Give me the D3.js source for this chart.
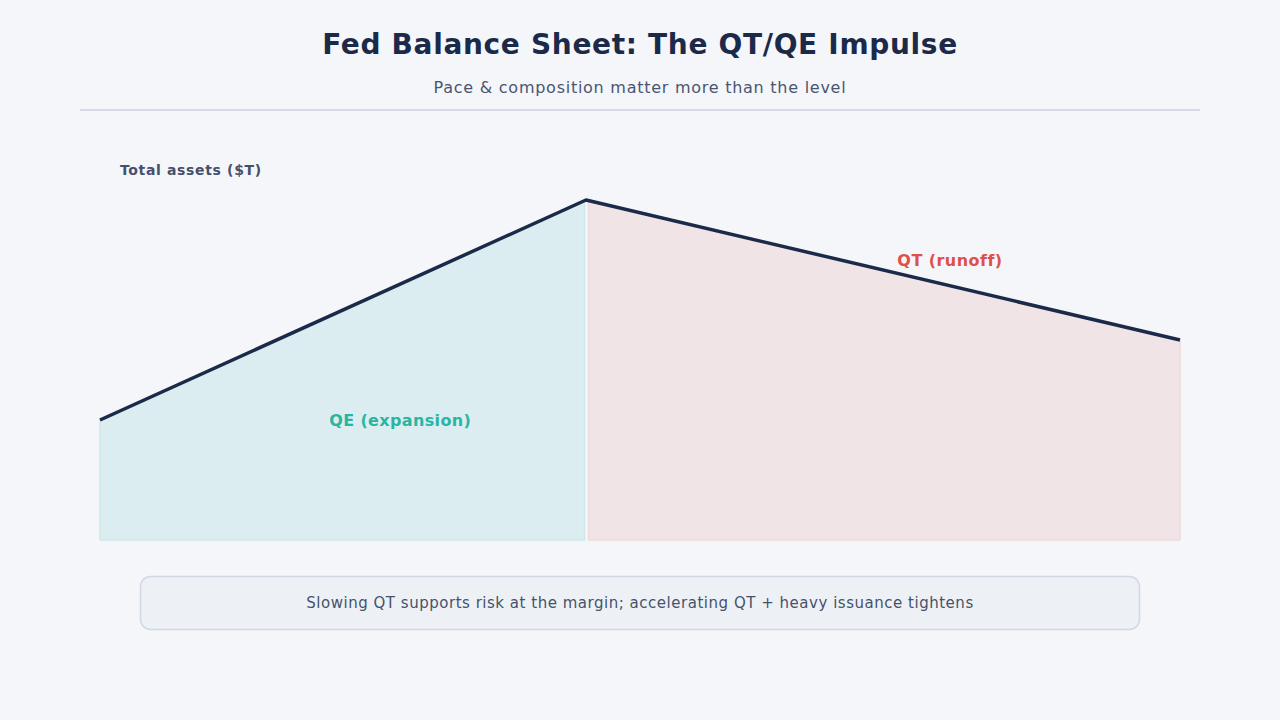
<!DOCTYPE html>
<html>
<head>
<meta charset="utf-8">
<script src="https://cdn.jsdelivr.net/npm/d3@7"></script>
<style>
  body { margin: 0; background: #f5f6fa; }
  svg { display: block; font-family: "DejaVu Sans", sans-serif; }
</style>
</head>
<body>
<script>
// balance sheet path: start, peak, latest (years, $T)
var years = [2020, 2022.25, 2025];
var assets = [3.0, 8.5, 5.0];
var phaseNames = ["QE (expansion)", "QT (runoff)"];
var phaseColors = ["#2bb5a0", "#e0504a"];
var phaseFills = ["#dbedf0", "#f1e4e6"];
var phaseStrokes = ["#cde9e7", "#f0d9dd"];

var W = 1280, H = 720;
var svg = d3.select("body").append("svg").attr("width", W).attr("height", H);

svg.append("rect").attr("width", W).attr("height", H).attr("fill", "#f5f6fa");

svg.append("text").attr("x", 640).attr("y", 54).attr("text-anchor", "middle")
   .attr("font-size", 28).attr("font-weight", "bold").attr("fill", "#1c2a4a")
   .attr("letter-spacing", 0.67)
   .text("Fed Balance Sheet: The QT/QE Impulse");
svg.append("text").attr("x", 640).attr("y", 93).attr("text-anchor", "middle")
   .attr("font-size", 16).attr("fill", "#4a5570").attr("letter-spacing", 0.74)
   .text("Pace & composition matter more than the level");
svg.append("line").attr("x1", 80).attr("x2", 1200).attr("y1", 110).attr("y2", 110)
   .attr("stroke", "#d5d9e6").attr("stroke-width", 2);

var x = d3.scaleLinear().domain([2020, 2025]).range([100, 1180]);
var y = d3.scaleLinear().domain([0, 10]).range([540, 140]);

var pts = years.map(function(t, i) { return {t: t, v: assets[i]}; });

// one area per phase, nudged apart at the peak
var area = d3.area()
  .x(function(d) { return x(d.t) + (d.dx || 0); })
  .y0(y(0))
  .y1(function(d) { return y(d.v); });

var qe = [pts[0], {t: pts[1].t, v: pts[1].v, dx: -1.5}];
var qt = [{t: pts[1].t, v: pts[1].v, dx: 2.5}, pts[2]];

[qe, qt].forEach(function(seg, i) {
  svg.append("path").datum(seg).attr("d", area)
     .attr("fill", phaseFills[i]).attr("stroke", phaseStrokes[i]).attr("stroke-width", 1.5);
});

var line = d3.line().x(function(d) { return x(d.t); }).y(function(d) { return y(d.v); });
svg.append("path").datum(pts).attr("d", line)
   .attr("fill", "none").attr("stroke", "#1c2a4a").attr("stroke-width", 3.5)
   .attr("stroke-linejoin", "round");

svg.append("text").attr("x", 120).attr("y", 175).attr("font-size", 14)
   .attr("font-weight", "bold").attr("fill", "#45506b").attr("letter-spacing", 0.65)
   .text("Total assets ($T)");

svg.append("text").attr("x", x(2021.39)).attr("y", 426).attr("text-anchor", "middle")
   .attr("font-size", 16).attr("font-weight", "bold").attr("fill", phaseColors[0])
   .attr("letter-spacing", 0.36)
   .text(phaseNames[0]);
svg.append("text").attr("x", x(2023.935)).attr("y", 266).attr("text-anchor", "middle")
   .attr("font-size", 16).attr("font-weight", "bold").attr("fill", phaseColors[1])
   .attr("letter-spacing", 0.45)
   .text(phaseNames[1]);

svg.append("rect").attr("x", 140.5).attr("y", 576.5).attr("width", 999).attr("height", 53)
   .attr("rx", 10).attr("fill", "#edf1f6").attr("stroke", "#cfd8e3").attr("stroke-width", 1.5);
svg.append("text").attr("x", 640).attr("y", 608).attr("text-anchor", "middle")
   .attr("font-size", 15).attr("fill", "#46526b").attr("letter-spacing", 0.52)
   .text("Slowing QT supports risk at the margin; accelerating QT + heavy issuance tightens");
</script>
</body>
</html>
